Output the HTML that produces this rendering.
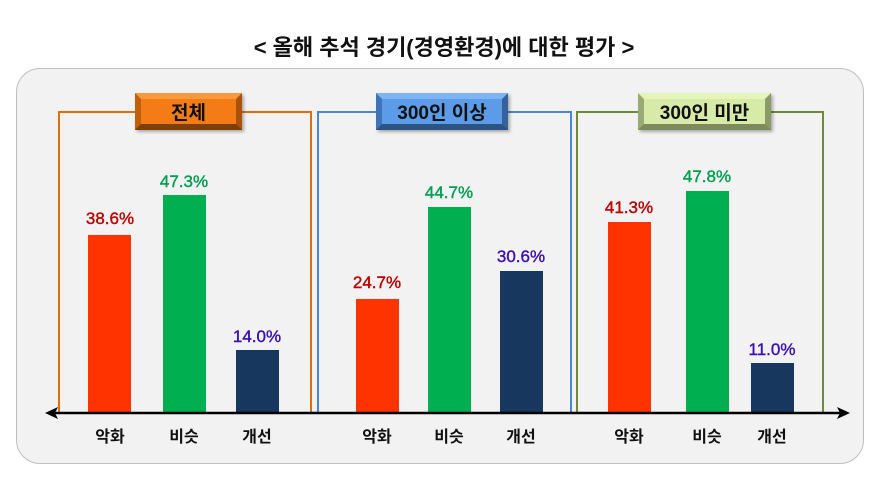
<!DOCTYPE html><html><head><meta charset="utf-8"><style>
body{margin:0;width:888px;height:482px;background:#fff;position:relative;overflow:hidden;font-family:"Liberation Sans","Noto Sans CJK KR",sans-serif}
.a{position:absolute}
.panel{left:16px;top:68px;width:848px;height:396px;background:#f2f2f2;border:1px solid #bfbfbf;border-radius:24px;box-sizing:border-box}
.box{position:absolute;top:111px;height:302px;box-sizing:border-box;border:2px solid;border-bottom:none}
.tab{position:absolute;top:93px;height:37px;box-sizing:border-box;border:6px solid;font-weight:bold;font-size:19px;display:flex;align-items:center;justify-content:center;color:#111;box-shadow:2px 2px 3px rgba(0,0,0,.3)}
.bar{position:absolute;width:43px;bottom:69px}
.v{position:absolute;width:90px;text-align:center;font-size:17px;font-weight:normal;-webkit-text-stroke:0.4px}
.x{position:absolute;top:423px;width:60px;text-align:center;font-size:16px;font-weight:bold;color:#111}
</style></head><body>
<div class="a" style="left:0;width:888px;top:30px;text-align:center;font-size:22px;font-weight:bold;color:#111">&lt; 올해 추석 경기(경영환경)에 대한 평가 &gt;</div>
<div class="a panel"></div>
<div class="box" style="left:58px;width:254px;border-color:#e46c0a"></div>
<div class="box" style="left:317px;width:255px;border-color:#4a86d8"></div>
<div class="box" style="left:576px;width:248px;border-color:#6e8a3a"></div>
<div class="tab" style="left:135px;width:107px;background:#f47b16;border-color:#f89a3c #a8520a #7e3f08 #c0600e">전체</div>
<div class="tab" style="left:376px;width:132px;background:#5b9be8;border-color:#7db4f4 #35629a #2d5383 #3f73b5">300인 이상</div>
<div class="tab" style="left:638px;width:133px;background:#d8eaa8;border-color:#e6f4b8 #8c9a6a #7e8a5e #9aaa74">300인 미만</div>
<div class="bar" style="left:88px;top:235px;background:#ff3300"></div>
<div class="bar" style="left:163px;top:195px;background:#00b050"></div>
<div class="bar" style="left:236px;top:350px;background:#17375e"></div>
<div class="bar" style="left:356px;top:299px;background:#ff3300"></div>
<div class="bar" style="left:428px;top:207px;background:#00b050"></div>
<div class="bar" style="left:500px;top:271px;background:#17375e"></div>
<div class="bar" style="left:608px;top:222px;background:#ff3300"></div>
<div class="bar" style="left:686px;top:191px;background:#00b050"></div>
<div class="bar" style="left:751px;top:363px;background:#17375e"></div>
<div class="v" style="left:65px;top:209px;color:#c00000">38.6%</div>
<div class="v" style="left:139px;top:172px;color:#00a050">47.3%</div>
<div class="v" style="left:212px;top:327px;color:#3a10b0">14.0%</div>
<div class="v" style="left:332px;top:273px;color:#c00000">24.7%</div>
<div class="v" style="left:404px;top:183px;color:#00a050">44.7%</div>
<div class="v" style="left:476px;top:247px;color:#3a10b0">30.6%</div>
<div class="v" style="left:584px;top:198px;color:#c00000">41.3%</div>
<div class="v" style="left:662px;top:167px;color:#00a050">47.8%</div>
<div class="v" style="left:727px;top:340px;color:#3a10b0">11.0%</div>
<svg class="a" style="left:0;top:0" width="888" height="482"><line x1="50" y1="413" x2="843" y2="413" stroke="#000" stroke-width="2.5"/><path d="M45 413 L58 407 L55 413 L58 419Z M850 413 L837 407 L840 413 L837 419Z" fill="#000"/></svg>
<div class="x" style="left:80px">악화</div><div class="x" style="left:154px">비슷</div><div class="x" style="left:227px">개선</div>
<div class="x" style="left:347px">악화</div><div class="x" style="left:419px">비슷</div><div class="x" style="left:491px">개선</div>
<div class="x" style="left:599px">악화</div><div class="x" style="left:677px">비슷</div><div class="x" style="left:742px">개선</div>
</body></html>
